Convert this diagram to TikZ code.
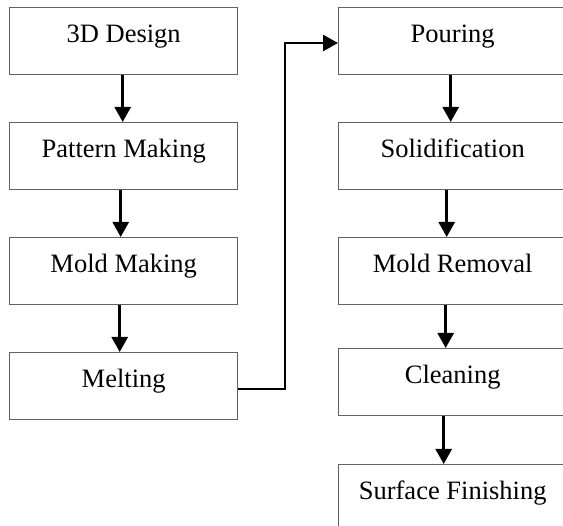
\documentclass[tikz,border=0pt]{standalone}
\usepackage{fontspec}
\setmainfont{Liberation Serif}
\usetikzlibrary{arrows.meta}

\begin{document}
\begin{tikzpicture}
      [x = 1pt, y = -1pt,
      box/.style= {
         draw = black!62,
         line width = 1.4pt,
         anchor = north west,
         inner sep = 0pt,
         minimum width = 228pt,
         text height = 35pt,
         text depth = 32pt,
         font = \fontsize{26.5}{30}\selectfont
      },
      flow/.style= {
         line width = 2.6pt,
         -{Triangle[length = 15pt, width = 16pt]}
      }]
      \useasboundingbox (0, 0) rectangle (563, 526);
      \clip (0, 0) rectangle (563, 526);

      \node[box] (design) at (9, 7) {3D Design};
      \node[box] (pattern) at (9, 122) {Pattern Making};
      \node[box] (mold) at (9, 237) {Mold Making};
      \node[box] (melting) at (9, 352) {Melting};

      \node[box] (pouring) at (338, 7) {Pouring};
      \node[box] (solid) at (338, 122) {Solidification};
      \node[box] (removal) at (338, 237) {Mold Removal};
      \node[box] (cleaning) at (338, 348) {Cleaning};
      \node[box] (finishing) at (338, 464) {Surface Finishing};

      \draw[flow] ([xshift = -1pt]design.south) -- ([xshift = -1pt]pattern.north);
      \draw[flow] ([xshift = -3pt]pattern.south) -- ([xshift = -3pt]mold.north);
      \draw[flow] ([xshift = -4pt]mold.south) -- ([xshift = -4pt]melting.north);

      \draw[flow] ([xshift = -2pt]pouring.south) -- ([xshift = -2pt]solid.north);
      \draw[flow] ([xshift = -6pt]solid.south) -- ([xshift = -6pt]removal.north);
      \draw[flow] ([xshift = -7pt]removal.south) -- ([xshift = -7pt]cleaning.north);
      \draw[flow] ([xshift = -9pt]cleaning.south) -- ([xshift = -9pt]finishing.north);

      \coordinate (up) at (285, 43);
      \draw[flow] ([yshift = -3pt]melting.east) -| (up) -- (pouring.west |- up);

   \end{tikzpicture}
\end{document}
